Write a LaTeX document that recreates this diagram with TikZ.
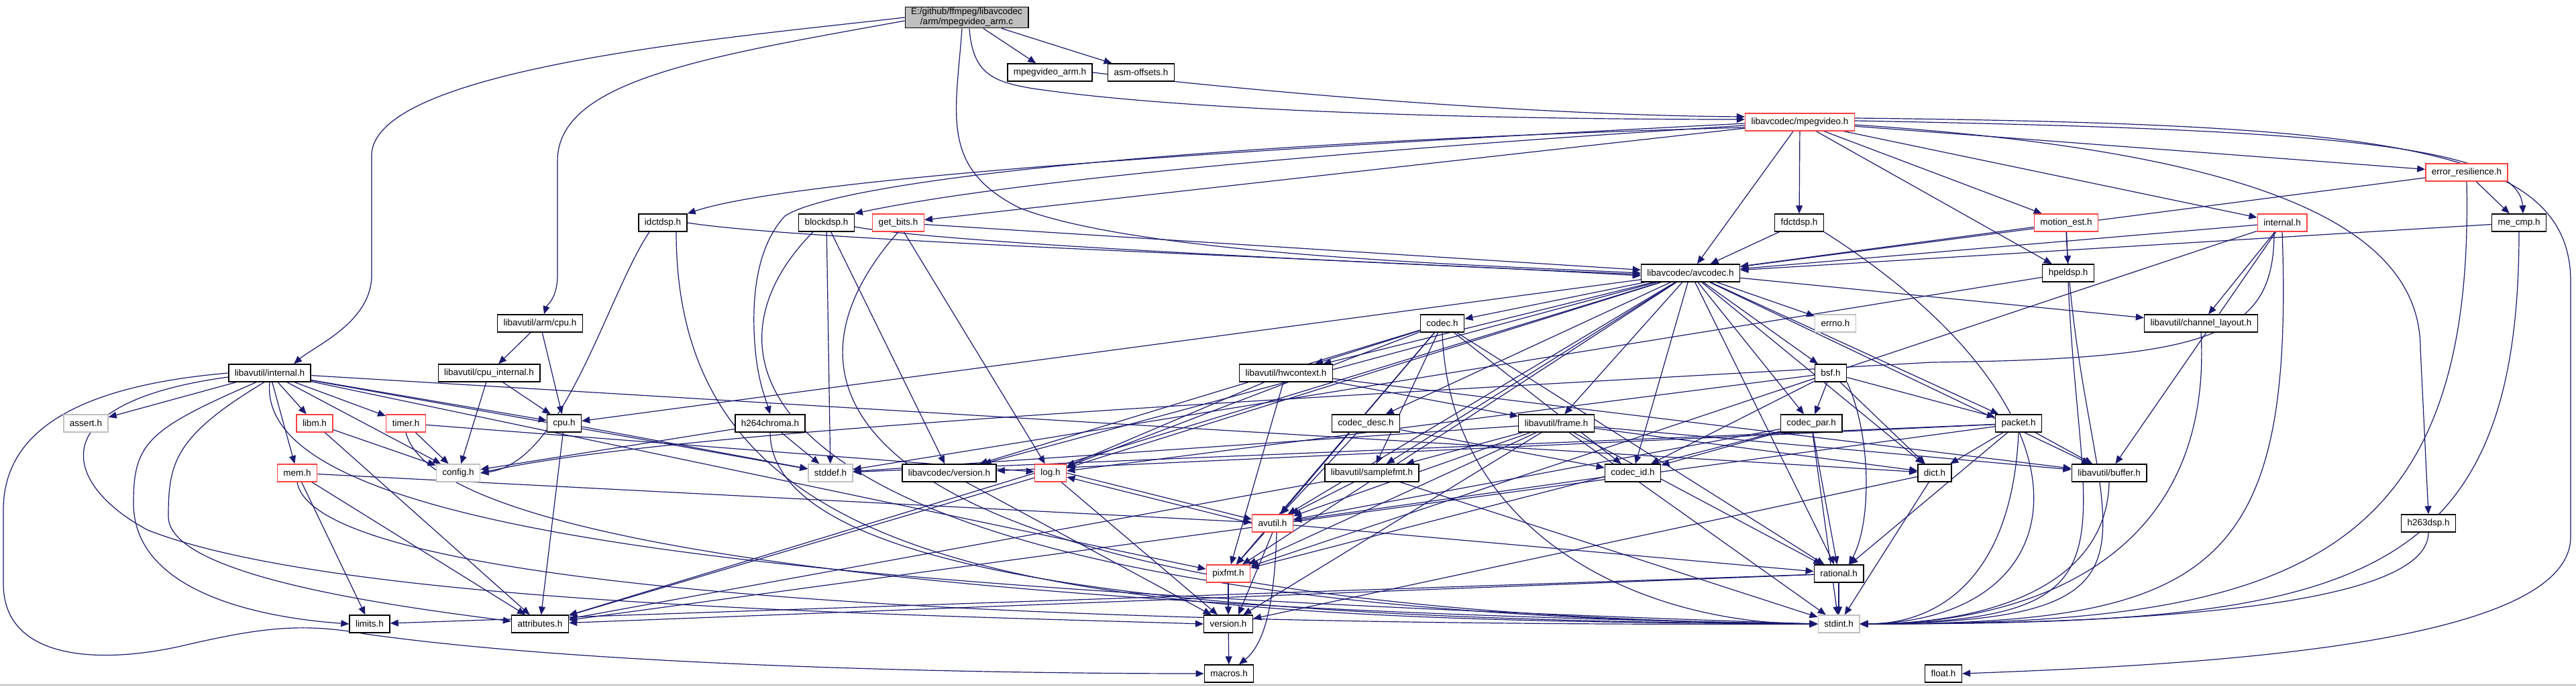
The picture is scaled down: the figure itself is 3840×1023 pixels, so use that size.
\documentclass[tikz,border=0pt]{standalone}
\usepackage{fontspec}
\setmainfont{Liberation Sans}
\usetikzlibrary{arrows.meta,backgrounds}
\definecolor{depblue}{RGB}{25,25,112}
\definecolor{truncred}{RGB}{255,64,64}
\definecolor{sysgray}{RGB}{191,191,191}
\definecolor{rootgray}{RGB}{191,191,191}

\begin{document}
\begin{tikzpicture}[x=1pt,y=-1pt,
    hdr/.style={draw=black,line width=1.4pt,fill=white,minimum height=26pt,
      inner xsep=9pt,inner ysep=2pt,font=\fontsize{13.5}{15}\selectfont},
    trunc/.style={hdr,draw=truncred},
    sys/.style={hdr,draw=sysgray},
    dep/.style={draw=depblue,line width=1.2pt,-{Triangle[length=12pt,width=10pt]}}]
  \useasboundingbox (0,0) rectangle (3840,1023);

  % headers, one row per rank
  \node[hdr,fill=rootgray,align=center] (root) at (1441,26) {E:/github/ffmpeg/libavcodec\\/arm/mpegvideo\_arm.c};
  \node[hdr] (mpvarm) at (1565,108) {mpegvideo\_arm.h};
  \node[hdr] (asmoff) at (1701,108) {asm-offsets.h};
  \node[trunc] (mpegvideo) at (2683,182) {libavcodec/mpegvideo.h};
  \node[trunc] (errres) at (3677,257) {error\_resilience.h};
  \node[hdr] (idctdsp) at (988,332) {idctdsp.h};
  \node[hdr] (blockdsp) at (1232,332) {blockdsp.h};
  \node[trunc] (getbits) at (1339,332) {get\_bits.h};
  \node[hdr] (fdctdsp) at (2682,332) {fdctdsp.h};
  \node[trunc] (motionest) at (3080,332) {motion\_est.h};
  \node[trunc] (lavcinternal) at (3402,332) {internal.h};
  \node[hdr] (mecmp) at (3755,332) {me\_cmp.h};
  \node[hdr] (avcodec) at (2520,407) {libavcodec/avcodec.h};
  \node[hdr] (hpeldsp) at (3083,407) {hpeldsp.h};
  \node[hdr] (armcpu) at (805,482) {libavutil/arm/cpu.h};
  \node[hdr] (codec) at (2150,482) {codec.h};
  \node[sys] (errnoh) at (2736,482) {errno.h};
  \node[hdr] (chlayout) at (3281,482) {libavutil/channel\_layout.h};
  \node[hdr] (lavuinternal) at (402,556) {libavutil/internal.h};
  \node[hdr] (cpuinternal) at (729,556) {libavutil/cpu\_internal.h};
  \node[hdr] (hwcontext) at (1917,556) {libavutil/hwcontext.h};
  \node[hdr] (bsf) at (2729,556) {bsf.h};
  \node[sys] (asserth) at (128,631) {assert.h};
  \node[trunc] (libm) at (469,631) {libm.h};
  \node[trunc] (timer) at (605,631) {timer.h};
  \node[hdr] (cpuh) at (841,631) {cpu.h};
  \node[hdr] (hchroma) at (1148,631) {h264chroma.h};
  \node[hdr] (codecdesc) at (2036,631) {codec\_desc.h};
  \node[hdr] (frame) at (2320,631) {libavutil/frame.h};
  \node[hdr] (codecpar) at (2700,631) {codec\_par.h};
  \node[hdr] (packet) at (3009,631) {packet.h};
  \node[trunc] (mem) at (443,705) {mem.h};
  \node[sys] (config) at (683,705) {config.h};
  \node[sys] (stddef) at (1238,705) {stddef.h};
  \node[hdr] (lavcversion) at (1415,705) {libavcodec/version.h};
  \node[trunc] (log) at (1566,705) {log.h};
  \node[hdr] (samplefmt) at (2045,705) {libavutil/samplefmt.h};
  \node[hdr] (codecid) at (2434,705) {codec\_id.h};
  \node[hdr] (dict) at (2884,705) {dict.h};
  \node[hdr] (buffer) at (3144,705) {libavutil/buffer.h};
  \node[trunc] (avutil) at (1897,780) {avutil.h};
  \node[hdr] (hdsp) at (3620,780) {h263dsp.h};
  \node[trunc] (pixfmt) at (1831,855) {pixfmt.h};
  \node[hdr] (rational) at (2741,855) {rational.h};
  \node[hdr] (limits) at (551,930) {limits.h};
  \node[hdr] (attributes) at (805,930) {attributes.h};
  \node[hdr] (version) at (1831,930) {version.h};
  \node[sys] (stdint) at (2741,930) {stdint.h};
  \node[hdr] (macros) at (1832,1004) {macros.h};
  \node[hdr] (floath) at (2897,1004) {float.h};

  \begin{scope}[on background layer]
    \fill[white] (0,0) rectangle (3840,1023);
    \draw[sysgray,line width=2pt] (0,1021) -- (3840,1021);

    % the source file
    \draw[dep] (root.west) .. controls (1100,55) and (560,100) .. (554,230) -- (554,410)
      .. controls (554,480) and (470,515) .. ([xshift=36pt]lavuinternal.north);
    \draw[dep] ([yshift=-5pt]root.west) .. controls (1050,85) and (831,120) .. (831,240) -- (831,410)
      .. controls (831,445) and (815,455) .. ([xshift=6pt]armcpu.north);
    \draw[dep] ([xshift=-7pt]root.south) .. controls (1425,170) and (1400,250) .. (1520,310)
      .. controls (1700,380) and (2200,395) .. (avcodec.west);
    \draw[dep] ([xshift=4pt]root.south) .. controls (1450,110) and (1480,122) .. (1540,132)
      .. controls (1800,170) and (2300,178) .. ([yshift=4pt]mpegvideo.west);
    \draw[dep] (root) -- (mpvarm);
    \draw[dep] (root) -- (asmoff);
    \draw[dep] (mpvarm.east) .. controls (1900,140) and (2300,172) .. ([yshift=8pt]mpegvideo.west);

    % libavcodec/mpegvideo.h
    \foreach \h in {getbits,avcodec,fdctdsp,hpeldsp,motionest,lavcinternal,errres}
      \draw[dep] (mpegvideo) -- (\h);
    \draw[dep] ([yshift=-2pt]mpegvideo.west) .. controls (2000,215) and (1200,260) .. (idctdsp.north east);
    \draw[dep] ([yshift=-5pt]mpegvideo.west) .. controls (2000,225) and (1500,270) .. (blockdsp.north east);
    \draw[dep] ([yshift=-8pt]mpegvideo.west) .. controls (1700,215) and (1240,275) .. (1170,322)
      .. controls (1135,360) and (1122,420) .. (1124,490) .. controls (1126,560) and (1140,590) .. (hchroma.north);
    \draw[dep] ([yshift=2pt]mpegvideo.east) .. controls (3400,192) and (3755,210) .. ([xshift=6pt]mecmp.north);
    \draw[dep] ([yshift=6pt]mpegvideo.east) .. controls (3550,185) and (3832,215) .. (3832,420) -- (3832,800)
      .. controls (3832,960) and (3300,990) .. (floath.east);
    \draw[dep] ([yshift=-4pt]mpegvideo.east) .. controls (3350,225) and (3608,330) .. (3608,520) -- (hdsp.north);

    % first level headers
    \draw[dep] (idctdsp.east) .. controls (1200,360) and (2000,385) .. ([yshift=-4pt]avcodec.west);
    \draw[dep] ([yshift=-6pt]blockdsp.east) .. controls (1400,362) and (2000,390) .. ([yshift=-2pt]avcodec.west);
    \foreach \h in {getbits,fdctdsp,motionest,lavcinternal,errres,mecmp}
      \draw[dep] (\h) -- (avcodec);
    \draw[dep] (motionest) -- (hpeldsp);
    \draw[dep] (errres) -- (mecmp);
    \draw[dep] ([xshift=-20pt]idctdsp.south) .. controls (905,440) and (840,690) .. (config.east);
    \draw[dep] (blockdsp) -- (stddef);
    \draw[dep] (blockdsp) -- (lavcversion);
    \draw[dep] (getbits) -- (log);
    \draw[dep] (hpeldsp) -- (stddef);
    \draw[dep] (lavcinternal) -- (chlayout);
    \draw[dep] (lavcinternal) -- (buffer);
    \draw[dep] (lavcinternal) -- (pixfmt);
    \draw[dep] ([xshift=-12pt]lavcinternal.south) .. controls (3390,500) and (3300,535) .. (2880,540)
      .. controls (2000,590) and (1000,640) .. (config.east);

    % libavcodec/avcodec.h
    \foreach \h in {codec,errnoh,bsf,frame,codecpar,hwcontext,codecdesc,samplefmt,codecid,dict,
        buffer,chlayout,packet,cpuh,log,avutil,pixfmt,rational,attributes,lavcversion}
      \draw[dep] (avcodec) -- (\h);
    \foreach \h in {avutil,hwcontext,log,pixfmt,rational,samplefmt,codecid,lavcversion}
      \draw[dep] (codec) -- (\h);
    \foreach \h in {avutil,codecid}
      \draw[dep] (codecdesc) -- (\h);
    \foreach \h in {stdint,avutil,rational,pixfmt,codecid}
      \draw[dep] (codecpar) -- (\h);
    \foreach \h in {dict,log,codecid,codecpar,packet}
      \draw[dep] (bsf) -- (\h);
    \draw[dep] (bsf.south east) .. controls (2790,650) and (2790,780) .. ([xshift=15pt]rational.north);
    \foreach \h in {stddef,attributes,buffer,dict,rational,lavcversion}
      \draw[dep] (packet) -- (\h);
    \foreach \h in {buffer,frame,log,pixfmt}
      \draw[dep] (hwcontext) -- (\h);
    \foreach \h in {stddef,stdint,avutil,buffer,dict,rational,samplefmt,pixfmt,version}
      \draw[dep] (frame) -- (\h);
    \foreach \h in {avutil,attributes,stdint}
      \draw[dep] (samplefmt) -- (\h);
    \draw[dep] (codecid) -- (avutil);
    \draw[dep] (dict) -- (stdint);
    \draw[dep] (dict) -- (version);

    % libavutil
    \draw[dep] (armcpu) -- (cpuinternal);
    \draw[dep] (armcpu) -- (cpuh);
    \draw[dep] (cpuinternal) -- (config);
    \draw[dep] (cpuinternal) -- (cpuh);
    \foreach \h in {asserth,libm,timer,cpuh,mem,config,stddef,pixfmt,dict}
      \draw[dep] (lavuinternal) -- (\h);
    \draw[dep] ([xshift=-20pt]lavuinternal.south) .. controls (220,640) and (199,660) .. (199,750)
      .. controls (199,880) and (380,920) .. (limits.west);
    \draw[dep] ([xshift=-8pt]lavuinternal.south) .. controls (260,650) and (251,690) .. (251,770)
      .. controls (251,860) and (600,905) .. ([yshift=4pt]attributes.west);
    \draw[dep] ([yshift=-6pt]lavuinternal.west) .. controls (60,600) and (90,720) .. (220,790)
      .. controls (500,900) and (1300,915) .. (version.west);
    \draw[dep] (lavuinternal.west) .. controls (120,575) and (5,640) .. (5,760) -- (5,870)
      .. controls (5,985) and (150,990) .. (270,963) .. controls (390,935) and (450,928) .. (545,945)
      .. controls (900,995) and (1500,1004) .. (macros.west);
    \draw[dep] (cpuh) -- (stddef);
    \draw[dep] (cpuh) -- (attributes);
    \draw[dep] (libm) -- (config);
    \draw[dep] (libm) -- (attributes);
    \draw[dep] (timer) -- (config);
    \draw[dep] (timer) -- (log);
    \draw[dep] (hchroma) -- (stddef);
    \draw[dep] (hchroma) -- (config);
    \foreach \h in {limits,attributes,avutil}
      \draw[dep] (mem) -- (\h);
    \draw[dep] (log.east) -- ([yshift=6pt]avutil.west);
    \draw[dep] (avutil.west) -- ([yshift=-6pt]log.east);
    \draw[dep] (log) -- (attributes);
    \draw[dep] (log) -- (version);
    \draw[dep] (avutil) -- (pixfmt);
    \draw[dep] (avutil) -- (rational);
    \draw[dep] (avutil.south) -- ([xshift=15pt]version.north);
    \draw[dep] ([xshift=6pt]avutil.south) .. controls (1900,900) and (1885,960) .. ([xshift=15pt]macros.north);
    \draw[dep] (pixfmt) -- (version);
    \draw[dep] (version) -- (macros);
    \draw[dep] (lavcversion) -- (version);
    \foreach \h in {stdint,limits,attributes}
      \draw[dep] (rational) -- (\h);

    % into stdint.h from the left
    \draw[dep] ([xshift=20pt]idctdsp.south) .. controls (1008,880) and (1600,925) .. (stdint.west);
    \draw[dep] ([xshift=-20pt]blockdsp.south) .. controls (1000,560) and (1150,915) .. (stdint.west);
    \draw[dep] (getbits.south) .. controls (1080,640) and (1400,915) .. (stdint.west);
    \draw[dep] (hchroma.south) .. controls (1150,880) and (1900,925) .. (stdint.west);
    \draw[dep] (timer.south) .. controls (650,820) and (1500,910) .. (stdint.west);
    \draw[dep] (mem.south) .. controls (470,880) and (1500,935) .. (stdint.west);
    \draw[dep] (lavuinternal.south) .. controls (380,800) and (1200,880) .. (stdint.west);
    \draw[dep] (codec.south) .. controls (2160,800) and (2450,930) .. (stdint.west);
    % into stdint.h from the right
    \draw[dep] (fdctdsp.south east) .. controls (3150,620) and (3100,925) .. (stdint.east);
    \draw[dep] (motionest.south) .. controls (3100,800) and (3300,925) .. (stdint.east);
    \draw[dep] (hpeldsp.south) .. controls (3100,820) and (3200,925) .. (stdint.east);
    \draw[dep] (lavcinternal.south) .. controls (3420,850) and (3300,930) .. (stdint.east);
    \draw[dep] (errres.south) .. controls (3690,850) and (3400,930) .. (stdint.east);
    \draw[dep] (mecmp.south) .. controls (3755,880) and (3500,930) .. (stdint.east);
    \draw[dep] (hdsp.south) .. controls (3620,890) and (3300,930) .. (stdint.east);
    \draw[dep] (buffer.south) .. controls (3140,880) and (2950,930) .. (stdint.east);
    \draw[dep] (chlayout.south) .. controls (3300,850) and (3000,930) .. (stdint.east);
    \draw[dep] (packet.south) .. controls (3000,850) and (2900,930) .. (stdint.east);
  \end{scope}
\end{tikzpicture}
\end{document}
